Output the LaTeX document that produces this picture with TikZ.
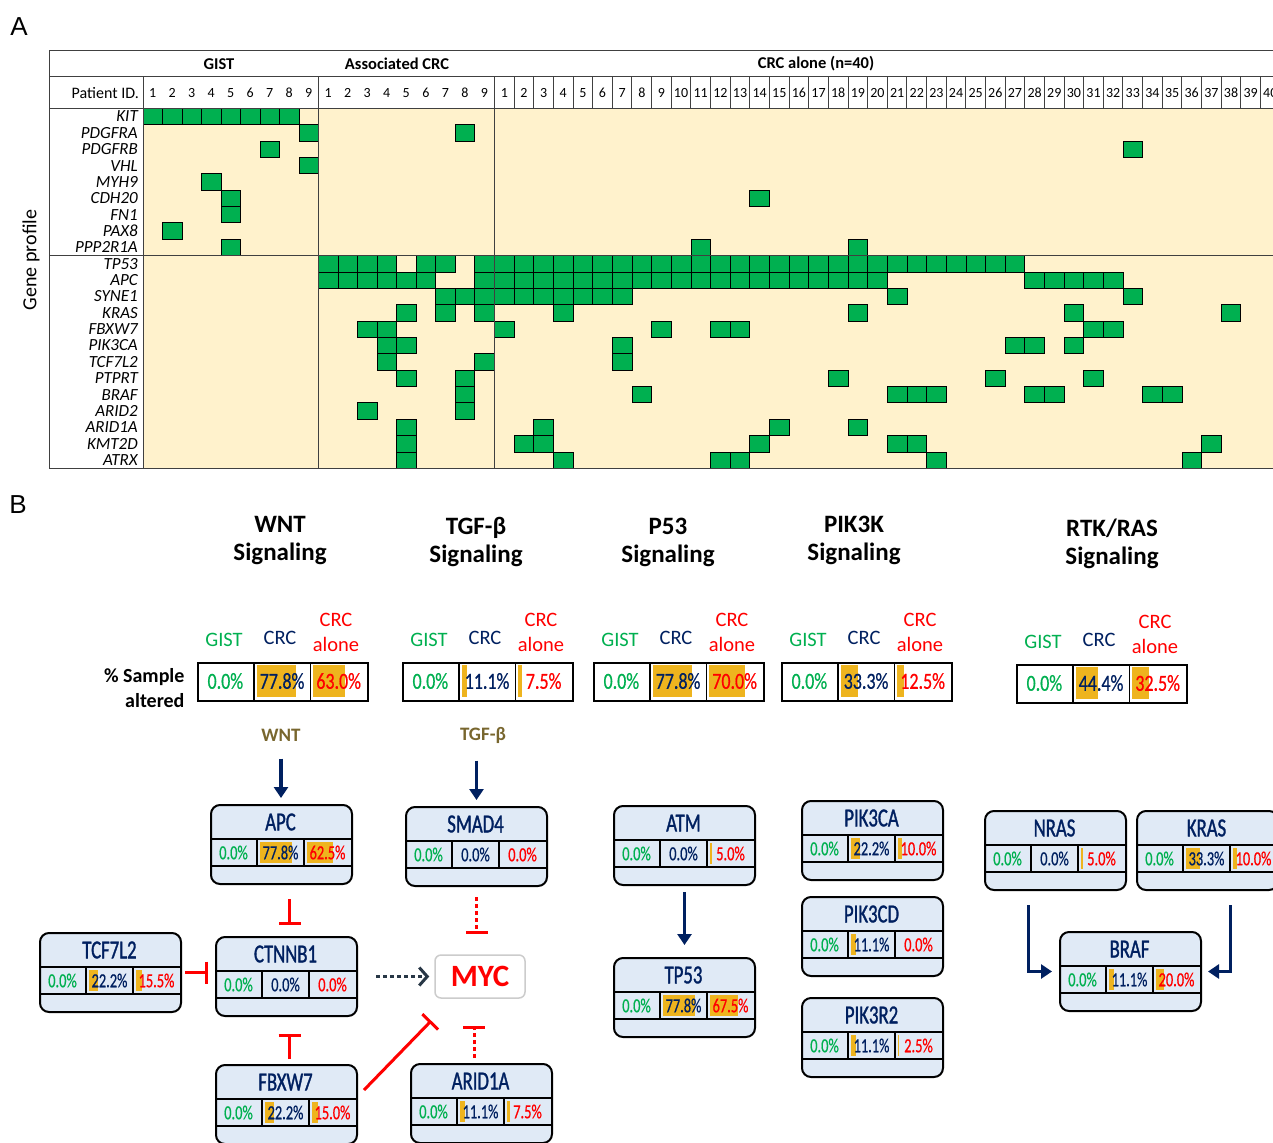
\documentclass[tikz,border=0pt]{standalone}
\usepackage{fontspec}
\setmainfont{Carlito}
\newfontfamily\panelfont{Liberation Sans}
\newfontfamily\condfont[FakeStretch=0.72,FakeBold=0.6]{Carlito}
\newfontfamily\condtitlefont[FakeStretch=0.72,FakeBold=1.2]{Carlito}
\newfontfamily\sampfont[FakeStretch=0.78,FakeBold=0.6]{Carlito}
\usetikzlibrary{arrows.meta}

\definecolor{mutgreen}{RGB}{0,176,80}
\definecolor{beige}{RGB}{255,242,204}
\definecolor{gistgreen}{RGB}{0,176,80}
\definecolor{crcnavy}{RGB}{0,32,96}
\definecolor{alonered}{RGB}{255,0,0}
\definecolor{bargold}{RGB}{238,180,30}
\definecolor{boxblue}{RGB}{224,234,246}
\definecolor{olivetxt}{RGB}{120,102,46}
\definecolor{slatearr}{RGB}{40,55,70}

\newcommand{\boxvalfont}{\condfont\fontsize{20}{22}\selectfont}
\newcommand{\sampvalfont}{\sampfont\fontsize{23}{25}\selectfont}

% mutated cells of panel A: origin, column width, row, columns
\newcommand{\mutcells}[4]{%
  \foreach \col in {#4}{\draw[mutcell] ({#1+(\col-1)*#2},{108.3+(#3-1)*16.36}) rectangle ++(#2,16.36);}}
\newcommand{\gistmut}[2]{\mutcells{143}{19.5}{#1}{#2}}
\newcommand{\acrcmut}[2]{\mutcells{318.3}{19.55}{#1}{#2}}
\newcommand{\alonemut}[2]{\mutcells{494.5}{19.64}{#1}{#2}}

% one percentage cell: name, left, top, width, height, value, colour, font
\newcommand{\pctcell}[8]{%
  \pgfmathsetmacro{\barw}{#6/100*(#4-6)}%
  \ifdim\barw pt>0.1pt \fill[bargold] (#2+3,#3+3) rectangle ++(\barw,#5-6);\fi
  \node[font=#8, text=#7, inner sep=0pt] (#1) at (#2+#4/2,#3+#5/2) {#6\%};
}

% gene box: name, left, top, title, gist, crc, crc alone
\newcommand{\genebox}[7]{%
  \node[gbox, anchor=north west] (#1) at (#2,#3) {};
  \draw[line width=1.3pt] (#2,#3+35) -- ++(141,0) (#2,#3+62) -- ++(141,0)
    (#2+47,#3+35) -- ++(0,27) (#2+94,#3+35) -- ++(0,27);
  \node[genetitle] (#1-t) at (#2+70.5,#3+18) {#4};
  \pctcell{#1-g}{#2}{#3+35}{47}{27}{#5}{gistgreen}{\boxvalfont}
  \pctcell{#1-c}{#2+47}{#3+35}{47}{27}{#6}{crcnavy}{\boxvalfont}
  \pctcell{#1-a}{#2+94}{#3+35}{47}{27}{#7}{alonered}{\boxvalfont}
}

% % sample altered box: name, left, top, gist, crc, crc alone
\newcommand{\samplebox}[6]{%
  \node[sbox, anchor=north west] (#1) at (#2,#3) {};
  \pctcell{#1-g}{#2}{#3}{56.7}{38}{#4}{gistgreen}{\sampvalfont}
  \pctcell{#1-c}{#2+56.7}{#3}{56.7}{38}{#5}{crcnavy}{\sampvalfont}
  \pctcell{#1-a}{#2+113.3}{#3}{56.7}{38}{#6}{alonered}{\sampvalfont}
  \draw[line width=1.6pt] (#2+56.7,#3) -- ++(0,38) (#2+113.3,#3) -- ++(0,38);
  \node[colhead, text=gistgreen] (#1-hg) at (#2+27,#3-22) {GIST};
  \node[colhead, text=crcnavy] (#1-hc) at (#2+83,#3-24) {CRC};
  \node[colhead, text=alonered] (#1-ha) at (#2+139,#3-30) {CRC\\alone};
}

\begin{document}
\begin{tikzpicture}[x=1pt, y=-1pt,
    mutcell/.style={fill=mutgreen, draw=black, line width=0.7pt},
    tabline/.style={draw=black!75, line width=1pt},
    numtxt/.style={font=\fontsize{14}{15}\selectfont, inner sep=0pt},
    grouptxt/.style={font=\bfseries\fontsize{16.5}{18}\selectfont},
    genetxt/.style={font=\itshape\fontsize{17}{17}\selectfont, inner sep=0pt},
    gbox/.style={draw=black, line width=2pt, fill=boxblue, rounded corners=9pt,
      minimum width=141pt, minimum height=79pt, inner sep=0pt},
    sbox/.style={draw=black, line width=1.8pt, fill=white,
      minimum width=170pt, minimum height=38pt, inner sep=0pt},
    genetitle/.style={font=\condtitlefont\fontsize{26}{28}\selectfont, text=crcnavy},
    colhead/.style={font=\fontsize{20.5}{25}\selectfont, align=center, inner sep=0pt},
    pathtitle/.style={font=\bfseries\fontsize{25}{28}\selectfont, align=center},
    pathlbl/.style={font=\bfseries\fontsize{19}{21}\selectfont, text=olivetxt},
    navyarrow/.style={draw=crcnavy, line width=3.5pt, -{Triangle[length=11pt,width=14pt]}},
    inhib/.style={draw=red, line width=3pt, -{Bar[width=22pt]}},
    inhibdot/.style={inhib, dash pattern=on 4pt off 3pt},
    dotarrow/.style={draw=slatearr, line width=3pt, dash pattern=on 4pt off 3pt,
      -{Straight Barb[length=8pt,width=18pt]}}]

\useasboundingbox (0,0) rectangle (1273,1142);
\fill[white] (0,0) rectangle (1273,1142);
\clip (0,0) rectangle (1273,1142);

\node[font=\panelfont\fontsize{26}{28}\selectfont] (lblA) at (19,27) {A};
\node[font=\panelfont\fontsize{26}{28}\selectfont] (lblB) at (18,505) {B};

% ---------- panel A: mutation table ----------
\fill[beige] (143,108.3) rectangle (1273,468.3);

\gistmut{1}{1,...,8}
\gistmut{2}{9}  \acrcmut{2}{8}
\gistmut{3}{7}  \alonemut{3}{33}
\gistmut{4}{9}
\gistmut{5}{4}
\gistmut{6}{5}  \alonemut{6}{14}
\gistmut{7}{5}
\gistmut{8}{2}
\gistmut{9}{5}  \alonemut{9}{11,19}
\acrcmut{10}{1,2,3,4,6,7,9}  \alonemut{10}{1,...,27}
\acrcmut{11}{1,...,6,9}      \alonemut{11}{1,...,20,28,29,30,31,32}
\acrcmut{12}{7,8,9}          \alonemut{12}{1,...,7,21,33}
\acrcmut{13}{5,7,9}          \alonemut{13}{4,19,30,38}
\acrcmut{14}{3,4}            \alonemut{14}{1,9,12,13,31,32}
\acrcmut{15}{4,5}            \alonemut{15}{7,27,28,30}
\acrcmut{16}{4,9}            \alonemut{16}{7}
\acrcmut{17}{5,8}            \alonemut{17}{18,26,31}
\acrcmut{18}{8}              \alonemut{18}{8,21,22,23,28,29,34,35}
\acrcmut{19}{3,8}
\acrcmut{20}{5}              \alonemut{20}{3,15,19}
\acrcmut{21}{5}              \alonemut{21}{2,3,14,21,22,37}
\acrcmut{22}{5}              \alonemut{22}{4,12,13,23,36}

% table lines
\draw[tabline] (49,51) -- (1273,51) (49,77) -- (1273,77) (49,108.3) -- (1273,108.3)
  (49,255) -- (1273,255) (49,468.3) -- (1273,468.3);
\draw[tabline] (49,51) -- (49,468.3) (143,77) -- (143,468.3)
  (318.3,77) -- (318.3,468.3) (494.5,77) -- (494.5,468.3);
\foreach \i in {1,...,40}
  \draw[tabline] ({494.5+\i*19.64},77) -- ++(0,31.3);

% header texts
\node[grouptxt] (hgist) at (219,64) {GIST};
\node[grouptxt] (hacrc) at (397,64) {Associated CRC};
\node[grouptxt] (halone) at (816,64) {CRC alone (n=40)};
\node[font=\fontsize{16}{17}\selectfont, anchor=east, inner sep=0pt] (hpid) at (139,93) {Patient ID.};
\foreach \i in {1,...,9} {
  \node[numtxt] (g\i) at ({143+(\i-0.5)*19.5},93) {\i};
  \node[numtxt] (a\i) at ({318.3+(\i-0.5)*19.55},93) {\i};
}
\foreach \i in {1,...,40}
  \node[numtxt] (c\i) at ({494.5+(\i-0.5)*19.64},93) {\i};

% gene names
\foreach \g [count=\r] in {KIT,PDGFRA,PDGFRB,VHL,MYH9,CDH20,FN1,PAX8,PPP2R1A,TP53,APC,
    SYNE1,KRAS,FBXW7,PIK3CA,TCF7L2,PTPRT,BRAF,ARID2,ARID1A,KMT2D,ATRX}
  \node[genetxt, anchor=east] (gene\r) at (138,{108.3+(\r-0.5)*16.36}) {\g};
\node[font=\fontsize{20}{22}\selectfont, rotate=90] (geneprof) at (31,260) {Gene profile};

% ---------- panel B: pathways ----------
\node[pathtitle] (twnt) at (280,541) {WNT\\Signaling};
\node[pathtitle] (ttgf) at (476,542) {TGF-β\\Signaling};
\node[pathtitle] (tp53s) at (668,542) {P53\\Signaling};
\node[pathtitle] (tpik) at (854,540) {PIK3K\\Signaling};
\node[pathtitle] (trtk) at (1112,544) {RTK/RAS\\Signaling};

\node[font=\bfseries\fontsize{20}{25}\selectfont, align=right, anchor=east] (salt) at (188,688) {\% Sample\\altered};

\samplebox{swnt}{197}{662}{0.0}{77.8}{63.0}
\samplebox{stgf}{402}{662}{0.0}{11.1}{7.5}
\samplebox{sp53}{593}{662}{0.0}{77.8}{70.0}
\samplebox{spik}{781}{662}{0.0}{33.3}{12.5}
\samplebox{srtk}{1016}{664}{0.0}{44.4}{32.5}

\node[pathlbl] (wntlbl) at (281,735) {WNT};
\node[pathlbl] (tgflbl) at (483,735) {TGF-β};

% gene boxes
\genebox{apc}{210}{804}{APC}{0.0}{77.8}{62.5}
\genebox{smad4}{405}{806}{SMAD4}{0.0}{0.0}{0.0}
\genebox{tcf7l2}{39}{932}{TCF7L2}{0.0}{22.2}{15.5}
\genebox{ctnnb1}{215}{936}{CTNNB1}{0.0}{0.0}{0.0}
\genebox{fbxw7}{215}{1064}{FBXW7}{0.0}{22.2}{15.0}
\genebox{arid1a}{410}{1063}{ARID1A}{0.0}{11.1}{7.5}
\genebox{atm}{613}{805}{ATM}{0.0}{0.0}{5.0}
\genebox{tp53}{613}{957}{TP53}{0.0}{77.8}{67.5}
\genebox{pik3ca}{801}{800}{PIK3CA}{0.0}{22.2}{10.0}
\genebox{pik3cd}{801}{896}{PIK3CD}{0.0}{11.1}{0.0}
\genebox{pik3r2}{801}{997}{PIK3R2}{0.0}{11.1}{2.5}
\genebox{nras}{984}{810}{NRAS}{0.0}{0.0}{5.0}
\genebox{kras}{1136}{810}{KRAS}{0.0}{33.3}{10.0}
\genebox{braf}{1059}{931}{BRAF}{0.0}{11.1}{20.0}

\node[draw=black!20, line width=1.5pt, rounded corners=6pt, fill=white,
  minimum width=90pt, minimum height=43pt, text=red,
  font=\bfseries\fontsize{31}{33}\selectfont] (myc) at (480,976.5) {MYC};

% connectors
\draw[navyarrow, shorten <=14pt, shorten >=6pt] (wntlbl.south) -- (wntlbl.south |- apc.north);
\draw[navyarrow, shorten <=14pt, shorten >=6pt] (smad4.north |- tgflbl.south) -- (smad4.north);
\draw[inhib, shorten <=14pt, shorten >=11pt] ([xshift=3pt]ctnnb1.north |- apc.south) -- ([xshift=3pt]ctnnb1.north);
\draw[inhibdot, shorten <=10pt, shorten >=20pt] (smad4.south) -- (smad4.south |- myc.north);
\draw[inhib, shorten <=3pt, shorten >=7pt] (tcf7l2.east) -- (tcf7l2.east -| ctnnb1.west);
\draw[dotarrow, shorten <=18pt, shorten >=5pt] (ctnnb1.east) -- (ctnnb1.east -| myc.west);
\draw[inhib, shorten <=5pt, shorten >=17pt] ([xshift=3pt]fbxw7.north) -- ([xshift=3pt]fbxw7.north |- ctnnb1.south);
\draw[inhib] ([xshift=6pt,yshift=-26pt]fbxw7.north east) -- ([xshift=-3pt,yshift=-22pt]myc.south west);
\draw[inhibdot, shorten <=5pt, shorten >=27pt] ([xshift=-6pt]myc.south |- arid1a.north) -- ([xshift=-6pt]myc.south);
\draw[navyarrow, shorten <=6pt, shorten >=12pt] (atm.south) -- (atm.south |- tp53.north);
\draw[navyarrow, shorten <=14pt, shorten >=7pt] ([xshift=-27pt]nras.south) |- (braf.west);
\draw[navyarrow, shorten <=14pt, shorten >=6pt] ([xshift=23pt]kras.south) |- (braf.east);

\end{tikzpicture}
\end{document}
